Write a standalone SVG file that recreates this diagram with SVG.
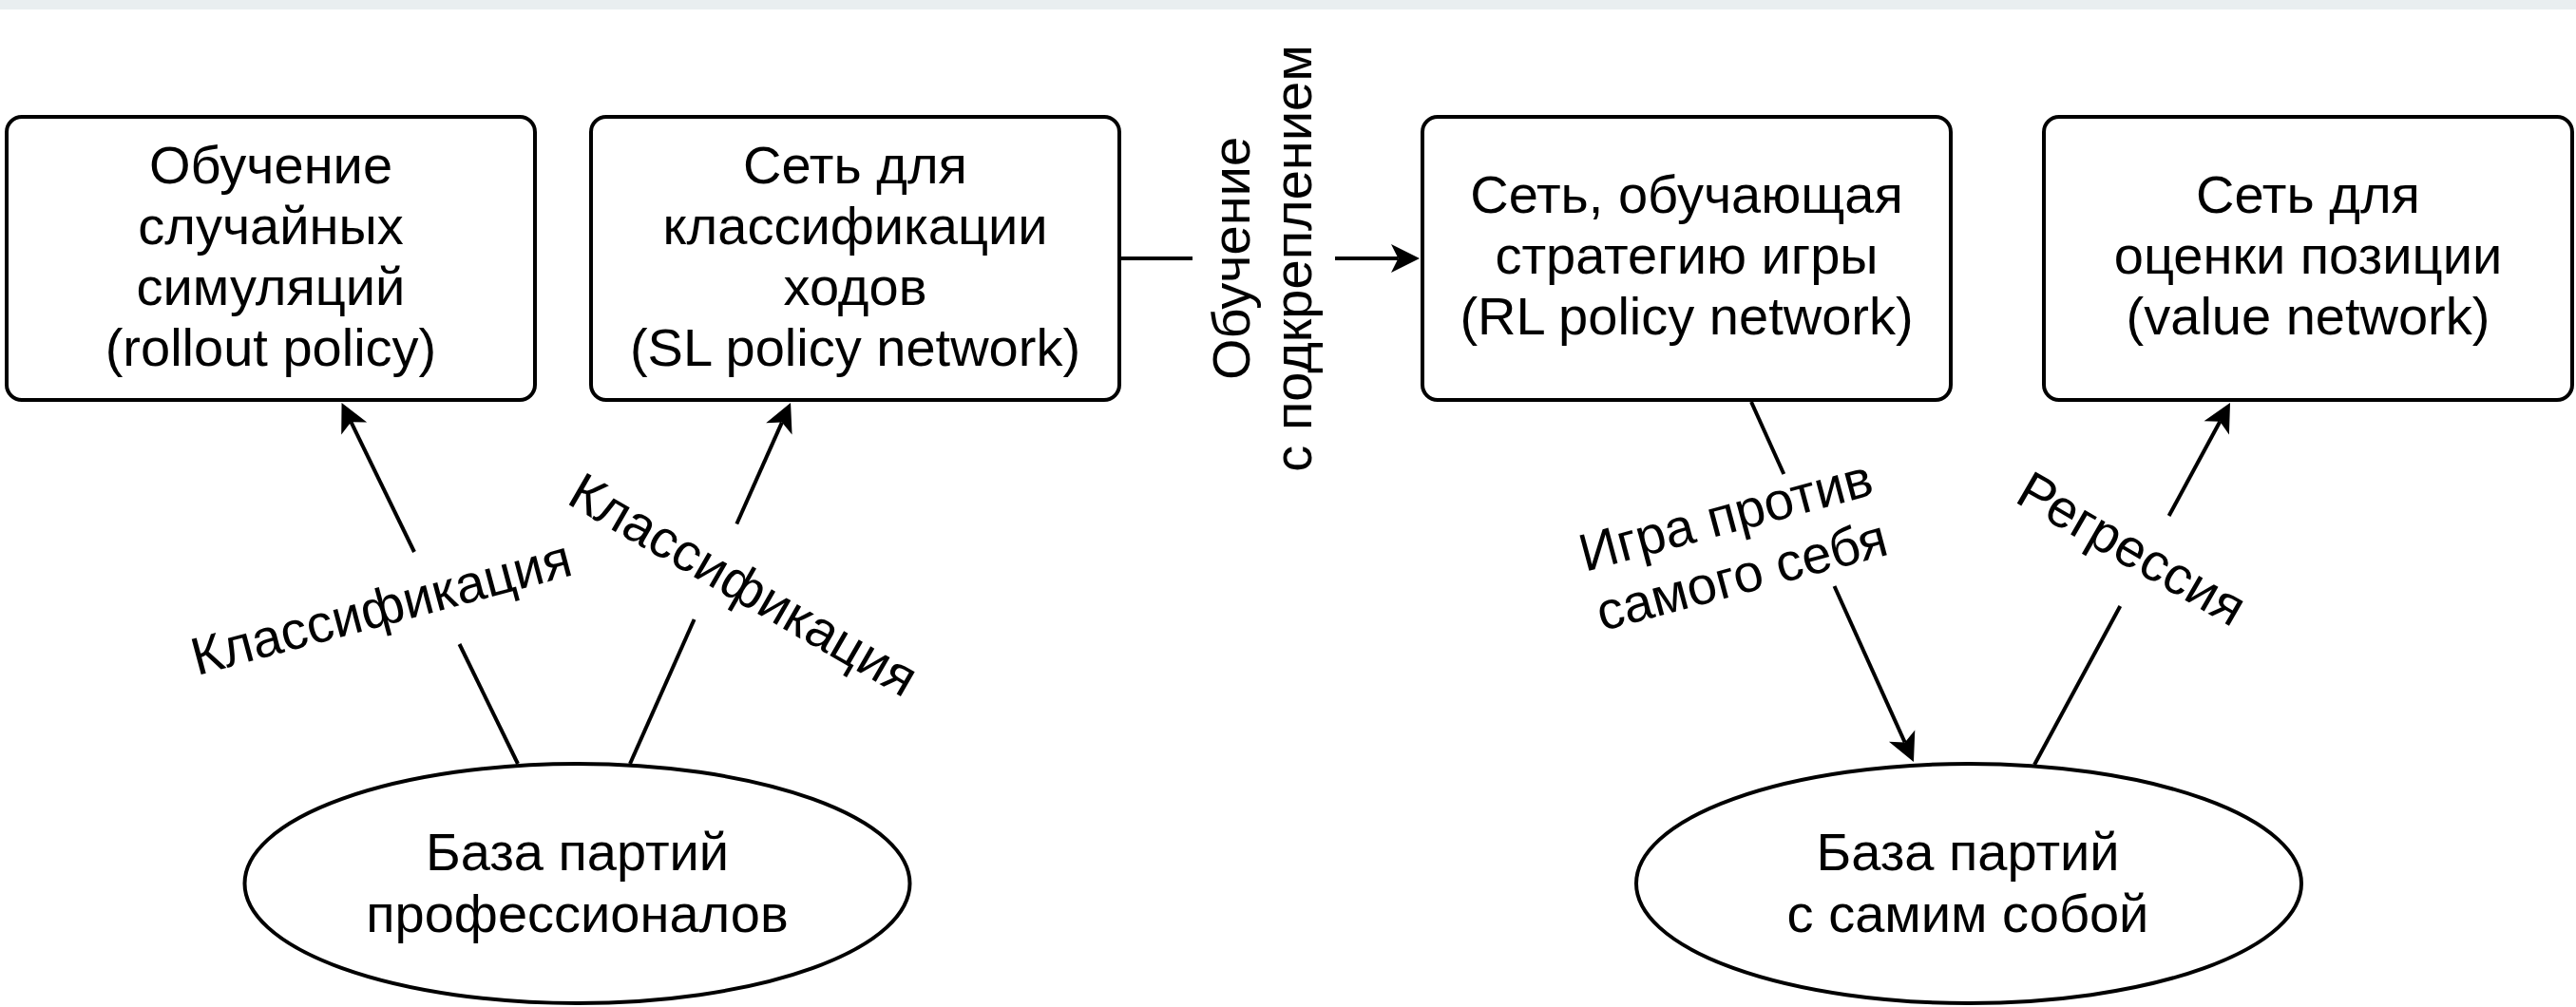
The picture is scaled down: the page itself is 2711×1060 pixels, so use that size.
<svg xmlns="http://www.w3.org/2000/svg" width="2711" height="1060" viewBox="0 0 2711 1060">
  <style>
    .box { fill: #ffffff; stroke: #000000; stroke-width: 4; }
    .ell { fill: #ffffff; stroke: #000000; stroke-width: 4; }
    .edge { fill: none; stroke: #000000; stroke-width: 4; stroke-linecap: butt; }
    .lbl { font-family: "Liberation Sans", Arial, Helvetica, sans-serif; font-size: 56px; fill: #000000; text-anchor: middle; }
  </style>
  <defs>
    <marker id="arrow" markerUnits="userSpaceOnUse" viewBox="-10 -17 36 34" markerWidth="36" markerHeight="34" refX="0" refY="0" orient="auto">
      <path d="M22.5,0 L-7.5,-15 L0,0 L-7.5,15 Z" fill="#000000"/>
    </marker>
  </defs>

  <rect x="0" y="0" width="2711" height="10" fill="#e9eef0"/>

  <g id="node-rollout">
    <rect class="box" x="7" y="123" width="556" height="298" rx="16" ry="16"/>
    <text class="lbl" x="285" y="193">Обучение</text>
    <text class="lbl" x="285" y="257">случайных</text>
    <text class="lbl" x="285" y="321">симуляций</text>
    <text class="lbl" x="285" y="385">(rollout policy)</text>
  </g>

  <g id="node-sl">
    <rect class="box" x="622" y="123" width="556" height="298" rx="16" ry="16"/>
    <text class="lbl" x="900" y="193">Сеть для</text>
    <text class="lbl" x="900" y="257">классификации</text>
    <text class="lbl" x="900" y="321">ходов</text>
    <text class="lbl" x="900" y="385">(SL policy network)</text>
  </g>

  <g id="node-rl">
    <rect class="box" x="1497" y="123" width="556" height="298" rx="16" ry="16"/>
    <text class="lbl" x="1775" y="224">Сеть, обучающая</text>
    <text class="lbl" x="1775" y="288">стратегию игры</text>
    <text class="lbl" x="1775" y="352">(RL policy network)</text>
  </g>

  <g id="node-value">
    <rect class="box" x="2151" y="123" width="556" height="298" rx="16" ry="16"/>
    <text class="lbl" x="2429" y="224">Сеть для</text>
    <text class="lbl" x="2429" y="288">оценки позиции</text>
    <text class="lbl" x="2429" y="352">(value network)</text>
  </g>

  <g id="node-pro-db">
    <ellipse class="ell" cx="607.5" cy="930" rx="350" ry="126"/>
    <text class="lbl" x="607.5" y="916">База партий</text>
    <text class="lbl" x="607.5" y="981">профессионалов</text>
  </g>

  <g id="node-self-db">
    <ellipse class="ell" cx="2072" cy="930" rx="350" ry="126"/>
    <text class="lbl" x="2071" y="916">База партий</text>
    <text class="lbl" x="2071" y="981">с самим собой</text>
  </g>

  <g id="connectors">
    <!-- SL -> RL (reinforcement learning) -->
    <line class="edge" x1="1178" y1="272" x2="1255" y2="272"/>
    <line class="edge" x1="1405" y1="272" x2="1471.5" y2="272" marker-end="url(#arrow)"/>
    <text class="lbl" transform="translate(1315,272) rotate(-90)">Обучение</text>
    <text class="lbl" transform="translate(1380,272) rotate(-90)">с подкреплением</text>

    <!-- pro DB -> rollout policy -->
    <line class="edge" x1="545" y1="804" x2="483.5" y2="678"/>
    <line class="edge" x1="436" y1="581" x2="369.4" y2="444.2" marker-end="url(#arrow)"/>
    <text class="lbl" transform="translate(406,658) rotate(-15)">Классификация</text>

    <!-- pro DB -> SL policy -->
    <line class="edge" x1="663" y1="804" x2="730.6" y2="652"/>
    <line class="edge" x1="775.3" y1="551.5" x2="822.9" y2="444.6" marker-end="url(#arrow)"/>
    <text class="lbl" transform="translate(773,632) rotate(30)">Классификация</text>

    <!-- RL -> self-play DB -->
    <line class="edge" x1="1843" y1="423" x2="1877.3" y2="499"/>
    <line class="edge" x1="1930.5" y1="617" x2="2004.7" y2="781.5" marker-end="url(#arrow)"/>
    <text class="lbl" transform="translate(1821,561) rotate(-15)"><tspan x="0" y="0">Игра против</tspan><tspan x="0" y="65">самого себя</tspan></text>

    <!-- self-play DB -> value network -->
    <line class="edge" x1="2141" y1="805" x2="2231.3" y2="638"/>
    <line class="edge" x1="2282.6" y1="543" x2="2336.3" y2="443.8" marker-end="url(#arrow)"/>
    <text class="lbl" transform="translate(2234,594) rotate(30)">Регрессия</text>
  </g>
</svg>
